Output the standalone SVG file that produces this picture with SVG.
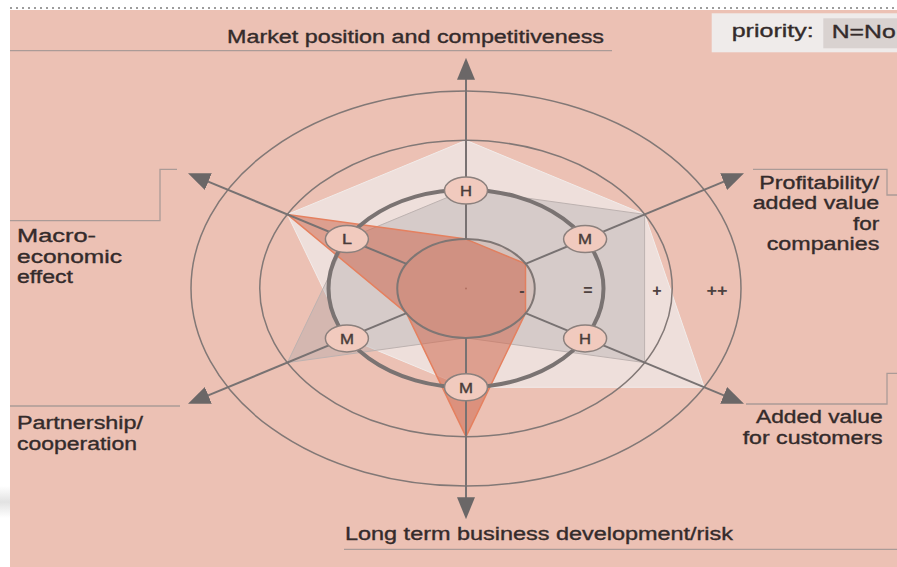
<svg xmlns="http://www.w3.org/2000/svg" width="897" height="567" viewBox="0 0 897 567">
<style>
.lbl{font-family:"Liberation Sans",Arial,sans-serif;font-size:18px;fill:#342b2b;stroke:#342b2b;stroke-width:0.35}
.nl{font-family:"Liberation Sans",Arial,sans-serif;font-size:14.5px;fill:#4a3c3a;stroke:#4a3c3a;stroke-width:0.4;text-anchor:middle}
.sc{font-family:"Liberation Sans",Arial,sans-serif;font-size:16px;font-weight:bold;fill:#4e4240;text-anchor:middle}
.ring{fill:none;stroke:#827876;stroke-width:1.5}
.axis{stroke:#787272;stroke-width:2;fill:none;marker-end:url(#ah)}
.node{fill:#f1cabe;stroke:#8b807d;stroke-width:1.5}
.guide{fill:none;stroke:#ab9b97;stroke-width:1.3}
</style>
<defs>
<marker id="ah" viewBox="0 0 22 18" refX="10" refY="9" markerWidth="22" markerHeight="18" markerUnits="userSpaceOnUse" orient="auto">
<path d="M0,0 L22,9 L0,18 z" fill="#6b6767"/>
</marker>
<linearGradient id="shade" x1="0" y1="0" x2="0" y2="1">
<stop offset="0" stop-color="#e2e2e2" stop-opacity="0"/>
<stop offset="0.5" stop-color="#e2e2e2" stop-opacity="1"/>
<stop offset="1" stop-color="#e2e2e2" stop-opacity="0"/>
</linearGradient>
</defs>

<g id="background">
<rect x="0" y="0" width="897" height="567" fill="#ffffff"/>
<rect x="0" y="486" width="10" height="32" fill="url(#shade)"/>
<rect x="10" y="10" width="887" height="557" fill="#ecc1b4"/>
<line x1="10" y1="8" x2="897" y2="8" stroke="#7d7d7d" stroke-width="1.5" stroke-dasharray="2 4"/>
</g>

<g id="series">
<polygon id="series-light" points="466,140.3 644.6,214.4 704.2,387.3 466,387.3 346.9,337.9 287.4,214.4" fill="#f0f0f0" fill-opacity="0.65" stroke="#f2ecea" stroke-width="1"/>
<polygon id="series-grey" points="466,189.7 644.6,214.4 644.6,362.6 466,337.9 287.4,362.6 346.9,239.1" fill="#a8a6a8" fill-opacity="0.35" stroke="#bdb2b0" stroke-width="1"/>
<polygon id="series-red" points="287.4,214.4 466,239.1 525.5,263.8 525.5,313.2 466,436.7 406.5,313.2" fill="#d06a50" fill-opacity="0.55" stroke="#e5805f" stroke-width="1.5" stroke-linejoin="round"/>
</g>

<g id="rings">
<ellipse cx="466" cy="288.5" rx="275" ry="197.6" class="ring"/>
<ellipse cx="466" cy="288.5" rx="206.25" ry="148.2" class="ring"/>
<ellipse cx="466" cy="288.5" rx="137.5" ry="98.8" fill="none" stroke="#7a7372" stroke-width="4"/>
<ellipse cx="466" cy="288.5" rx="68.75" ry="49.4" fill="#c87860" fill-opacity="0.12" stroke="#7f7674" stroke-width="2"/>
<circle cx="466" cy="288.5" r="1" fill="#b07060"/>
</g>

<g id="connectors">
<line class="axis" x1="466" y1="239.1" x2="466" y2="69.8"/>
<line class="axis" x1="466" y1="337.9" x2="466" y2="507.2"/>
<line class="axis" x1="525.5" y1="263.8" x2="732.9" y2="177.8"/>
<line class="axis" x1="525.5" y1="313.2" x2="732.9" y2="399.2"/>
<line class="axis" x1="406.5" y1="313.2" x2="199.1" y2="399.2"/>
<line class="axis" x1="406.5" y1="263.8" x2="199.1" y2="177.8"/>
</g>

<g id="scale">
<text class="sc" x="522" y="296">-</text>
<text class="sc" x="588" y="296">=</text>
<text class="sc" x="657" y="296">+</text>
<text class="sc" x="717" y="296" textLength="21" lengthAdjust="spacingAndGlyphs">++</text>
</g>

<g id="node-top">
<ellipse class="node" cx="466" cy="190.5" rx="21.5" ry="13.5"/>
<text class="nl" x="466" y="195.8" textLength="12" lengthAdjust="spacingAndGlyphs">H</text>
</g>
<g id="node-upper-right">
<ellipse class="node" cx="585.1" cy="239.1" rx="21.5" ry="13.5"/>
<text class="nl" x="585.1" y="244.4" textLength="14" lengthAdjust="spacingAndGlyphs">M</text>
</g>
<g id="node-lower-right">
<ellipse class="node" cx="585.1" cy="338.4" rx="21.5" ry="13.5"/>
<text class="nl" x="585.1" y="343.7" textLength="12" lengthAdjust="spacingAndGlyphs">H</text>
</g>
<g id="node-bottom">
<ellipse class="node" cx="466" cy="387.3" rx="21.5" ry="13.5"/>
<text class="nl" x="466" y="392.6" textLength="14" lengthAdjust="spacingAndGlyphs">M</text>
</g>
<g id="node-lower-left">
<ellipse class="node" cx="346.9" cy="338.4" rx="21.5" ry="13.5"/>
<text class="nl" x="346.9" y="343.7" textLength="14" lengthAdjust="spacingAndGlyphs">M</text>
</g>
<g id="node-upper-left">
<ellipse class="node" cx="346.9" cy="239.1" rx="21.5" ry="13.5"/>
<text class="nl" x="346.9" y="244.4" textLength="10" lengthAdjust="spacingAndGlyphs">L</text>
</g>

<g id="label-market">
<line class="guide" x1="10" y1="50.7" x2="612" y2="50.7"/>
<text class="lbl" x="227" y="43.3" textLength="377" lengthAdjust="spacingAndGlyphs">Market position and competitiveness</text>
</g>

<g id="label-longterm">
<line class="guide" x1="344" y1="549.3" x2="897" y2="549.3"/>
<text class="lbl" x="345" y="540" textLength="388" lengthAdjust="spacingAndGlyphs">Long term business development/risk</text>
</g>

<g id="label-macro">
<polyline class="guide" points="10,220.7 160,220.7 160,169.3 177,169.3"/>
<text class="lbl" x="17" y="241.7" textLength="79" lengthAdjust="spacingAndGlyphs">Macro-</text>
<text class="lbl" x="17" y="262.5" textLength="105" lengthAdjust="spacingAndGlyphs">economic</text>
<text class="lbl" x="17" y="283.3" textLength="56" lengthAdjust="spacingAndGlyphs">effect</text>
</g>

<g id="label-partnership">
<line class="guide" x1="10" y1="406" x2="180" y2="406"/>
<text class="lbl" x="17" y="429" textLength="126" lengthAdjust="spacingAndGlyphs">Partnership/</text>
<text class="lbl" x="17" y="449.5" textLength="120" lengthAdjust="spacingAndGlyphs">cooperation</text>
</g>

<g id="label-profitability">
<polyline class="guide" points="753,169.3 887,169.3 887,195 897,195"/>
<text class="lbl" x="759.3" y="188.5" textLength="120" lengthAdjust="spacingAndGlyphs">Profitability/</text>
<text class="lbl" x="752.7" y="209" textLength="126.6" lengthAdjust="spacingAndGlyphs">added value</text>
<text class="lbl" x="853" y="229.5" textLength="26.3" lengthAdjust="spacingAndGlyphs">for</text>
<text class="lbl" x="766.7" y="250" textLength="112.6" lengthAdjust="spacingAndGlyphs">companies</text>
</g>

<g id="label-customers">
<polyline class="guide" points="897,373.3 887,373.3 887,404 746,404"/>
<text class="lbl" x="756" y="423.3" textLength="126.7" lengthAdjust="spacingAndGlyphs">Added value</text>
<text class="lbl" x="742.7" y="443.5" textLength="140" lengthAdjust="spacingAndGlyphs">for customers</text>
</g>

<g id="legend-priority">
<rect x="711.7" y="13.3" width="186" height="39" fill="#efebea"/>
<rect x="823.3" y="18.3" width="74" height="30" fill="#d9d2d0"/>
<text class="lbl" x="731.7" y="37" textLength="82" lengthAdjust="spacingAndGlyphs">priority:</text>
<text class="lbl" x="831.7" y="37.5" textLength="64" lengthAdjust="spacingAndGlyphs">N=No</text>
</g>
</svg>
